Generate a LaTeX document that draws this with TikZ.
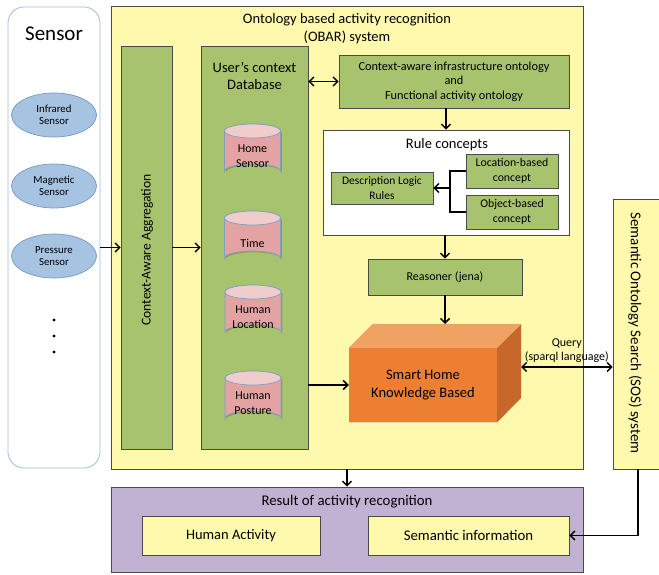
\documentclass[tikz,border=0pt]{standalone}
\usepackage{fontspec}
\setmainfont{Carlito}
\usetikzlibrary{shapes.geometric,arrows.meta,shadows}
\definecolor{yfill}{HTML}{FFF9AE}
\definecolor{gfill}{HTML}{A8C36D}
\definecolor{pfill}{HTML}{C1B1D3}
\definecolor{cylbody}{HTML}{E3A3A3}
\definecolor{cyltop}{HTML}{F0CCCC}
\definecolor{cylline}{HTML}{7E9FC8}
\definecolor{efill}{HTML}{A7C3E2}
\definecolor{eline}{HTML}{7898C2}
\definecolor{sline}{HTML}{9DBDDD}
\definecolor{ofront}{HTML}{EC7F32}
\definecolor{otop}{HTML}{F0A262}
\definecolor{oside}{HTML}{C7682A}
\definecolor{bline}{HTML}{4A4A4A}
\tikzset{
  shd/.style={drop shadow={opacity=0.25,shadow xshift=1.2pt,shadow yshift=-1.2pt}},
  gbox/.style={draw=bline,line width=0.7pt,fill=gfill,align=center,inner sep=1pt,shd},
  ybox/.style={draw=bline,line width=0.7pt,fill=yfill,align=center,inner sep=1pt,shd},
  sens/.style={ellipse,draw=eline,line width=0.7pt,fill=efill,minimum width=85pt,minimum height=44pt,align=center,inner sep=0pt,font=\fontsize{10.8}{12.5}\selectfont},
  cylbodystyle/.style={draw=cylline,line width=0.7pt,fill=cylbody},
  cyltopstyle/.style={draw=cylline,line width=0.7pt,fill=cyltop},
  cyltext/.style={align=center,inner sep=0pt,font=\fontsize{12}{15.5}\selectfont},
  arr/.style={line width=1.5pt,-{Straight Barb[length=4.5pt,width=9pt]}},
  darr/.style={line width=1.5pt,{Straight Barb[length=4.5pt,width=9pt]}-{Straight Barb[length=4.5pt,width=9pt]}},
  plain/.style={line width=1.5pt},
  txt/.style={align=center,inner sep=0pt}
}
% #1 name, #2 cx, #3 cy, #4 text
\newcommand\dbcylinder[4]{%
  \fill[black,opacity=0.18] (#2-28+1.3,#3-20+1.3) -- (#2-28+1.3,#3+20+1.3) arc[start angle=180,end angle=0,x radius=28pt,y radius=7pt] -- (#2+28+1.3,#3-20+1.3) -- cycle;
  \draw[cylbodystyle] (#2-28,#3-20) -- (#2-28,#3+20) arc[start angle=180,end angle=0,x radius=28pt,y radius=7pt] -- (#2+28,#3-20) arc[start angle=0,end angle=180,x radius=28pt,y radius=7pt] -- cycle;
  \draw[cyltopstyle] (#2,#3-20) ellipse[x radius=28pt,y radius=7pt];
  \node[cyltext] (#1) at (#2,#3+5) {#4};
}
\begin{document}
\begin{tikzpicture}[x=1pt,y=-1pt]
\useasboundingbox (0,0) rectangle (659,575);
\begin{scope}
\clip (0,0) rectangle (659,575);
% Sensor column
\node[draw=sline,line width=0.8pt,rounded corners=16pt,fill=white,minimum width=92pt,minimum height=461pt,inner sep=0pt] (sensorbox) at (54,237.5) {};
\node[txt,font=\fontsize{21}{24}\selectfont] (sensortitle) at (54,34) {Sensor};
\node[sens] (ir) at (54,115) {Infrared\\Sensor};
\node[sens] (mg) at (54,186) {Magnetic\\Sensor};
\node[sens] (pr) at (54,256) {Pressure\\Sensor};
\fill (54,320) circle (1.7pt) (54,336) circle (1.7pt) (54,352) circle (1.7pt);

% OBAR
\node[ybox,minimum width=472pt,minimum height=463pt] (obar) at (347,237.5) {};
\node[txt,font=\fontsize{14.5}{18}\selectfont] (obartitle) at (347,29) {Ontology based activity recognition\\(OBAR) system};

\node[gbox,minimum width=51pt,minimum height=403pt] (agg) at (146.5,247.5) {};
\node[txt,rotate=90,font=\fontsize{13.6}{16}\selectfont] (aggtext) at (147,250) {Context-Aware Aggregation};

\node[gbox,minimum width=107pt,minimum height=403pt] (db) at (254.5,247.5) {};
\node[txt,font=\fontsize{14.5}{17}\selectfont] (dbtitle) at (254.5,75.5) {User’s context\\Database};
\dbcylinder{c1}{252.5}{151}{Home\\Sensor}
\dbcylinder{c2}{252.5}{238}{Time}
\dbcylinder{c3}{253}{312}{Human\\Location}
\dbcylinder{c4}{253}{398}{Human\\Posture}

\node[gbox,minimum width=230pt,minimum height=53pt,font=\fontsize{12.3}{14.5}\selectfont] (onto) at (454,81.5) {Context-aware infrastructure ontology\\and\\Functional activity ontology};

\node[draw=bline,line width=0.7pt,fill=white,minimum width=246pt,minimum height=105pt,inner sep=0pt,shd] (rule) at (446,182.5) {};
\node[txt,font=\fontsize{14.5}{16}\selectfont] (ruletitle) at (447,145) {Rule concepts};
\node[gbox,minimum width=102pt,minimum height=32pt,font=\fontsize{11.5}{14.5}\selectfont] (dlr) at (382,188) {Description Logic\\Rules};
\node[gbox,minimum width=92pt,minimum height=34pt,font=\fontsize{11.8}{14.5}\selectfont] (loc) at (512,171) {Location-based\\concept};
\node[gbox,minimum width=92pt,minimum height=34pt,font=\fontsize{11.8}{14.5}\selectfont] (obj) at (512,212) {Object-based\\concept};

\node[gbox,minimum width=154pt,minimum height=36pt,font=\fontsize{12}{14}\selectfont] (reas) at (445,277) {Reasoner (jena)};

% Cube
\node[draw=none,fill=ofront,minimum width=148pt,minimum height=74pt,align=center,inner sep=0pt,font=\fontsize{14.5}{18}\selectfont,shd] (kb) at (423,385) {Smart Home\\Knowledge Based};
\fill[otop] (kb.north west) -- ++(24,-24) -- ++(148,0) -- (kb.north east) -- cycle;
\fill[oside] (kb.north east) -- ++(24,-24) -- ++(0,74) -- (kb.south east) -- cycle;
\coordinate (kbtop) at (445,324);
\coordinate (kbright) at (521,367);

% SOS
\node[ybox,minimum width=57pt,minimum height=270pt] (sos) at (641.5,334) {};
\node[txt,rotate=-90,font=\fontsize{15}{17}\selectfont] (sostext) at (635,333) {Semantic Ontology Search (SOS) system};
\coordinate (sosb) at (638,469);

% Result
\node[draw=bline,line width=0.7pt,fill=pfill,minimum width=472pt,minimum height=85pt,inner sep=0pt,shd] (res) at (347,529.5) {};
\node[txt,font=\fontsize{14.8}{16}\selectfont] (restitle) at (347,502) {Result of activity recognition};
\node[ybox,minimum width=178pt,minimum height=39pt,font=\fontsize{14.5}{16}\selectfont] (ha) at (231,535.5) {Human Activity};
\node[ybox,minimum width=201pt,minimum height=39pt,font=\fontsize{14.8}{16}\selectfont] (si) at (468.5,535.5) {Semantic information};

% Connectors
\draw[arr] (sensorbox.east |- agg.center) -- (agg.west);
\draw[arr] (agg.east |- db.center) -- (db.west);
\draw[darr] (db.east |- onto.west) -- (onto.west);
\draw[arr] (rule.north |- onto.south) -- (rule.north);
\coordinate (br) at (450,188);
\draw[plain] (loc.west) -| (br) |- (obj.west);
\draw[arr] (br) -- (dlr.east);
\draw[arr] (reas.north |- rule.south) -- (reas.north);
\draw[arr] (reas.south) -- (kbtop);
\draw[arr] (db.east |- kb.west) -- (kb.west);
\draw[darr] (kbright) -- (kbright -| sos.west) node[pos=0.5,above=4pt,align=center,inner sep=0pt,font=\fontsize{12}{14}\selectfont] (qlabel) {Query\\(sparql language)};
\draw[arr] (obar.south) -- (res.north);
\draw[arr] (sosb) |- (si.east);
\end{scope}
\end{tikzpicture}
\end{document}
